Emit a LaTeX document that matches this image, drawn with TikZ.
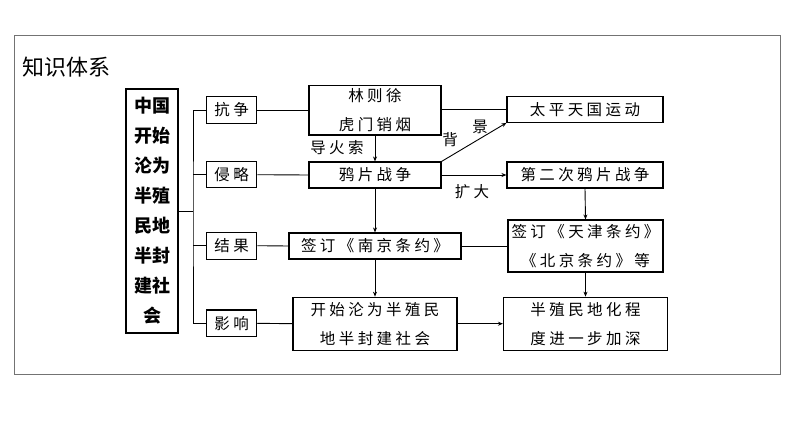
\documentclass[tikz,border=0pt]{standalone}
\usepackage{fontspec}
\setmainfont{Noto Sans CJK SC}
\newfontfamily\spfont{Noto Sans CJK SC}[LetterSpace=22]
\usetikzlibrary{arrows.meta}
\tikzset{
  box/.style={draw, line width=1.1pt, inner sep=0pt, align=center,
    font=\spfont\fontsize{15.5}{29}\selectfont},
  conn/.style={line width=0.9pt},
  arr/.style={conn, -{Stealth[length=5pt,width=4pt]}},
  lbl/.style={inner sep=0pt, font=\spfont\fontsize{15.5}{18}\selectfont}
}
\begin{document}
\begin{tikzpicture}[x=1pt,y=-1pt]
\useasboundingbox (0,0) rectangle (794,447);
\draw[line width=1pt, draw=black!55] (14,35) rectangle (780,374);
\node[inner sep=0pt, font=\fontsize{22}{24}\selectfont] (title) at (66,67) {知识体系};
\node[draw, line width=1.1pt, inner sep=0pt, minimum width=52pt, minimum height=244pt, align=center,
  font=\bfseries\fontsize{18}{30}\selectfont] (left) at (152,211) {中国\\开始\\沦为\\半殖\\民地\\半封\\建社\\会};
\node[box, minimum width=50pt, minimum height=26.7pt] (kz) at (231.7,110) {抗争};
\node[box, minimum width=50pt, minimum height=26pt] (ql) at (231.7,174.7) {侵略};
\node[box, minimum width=50pt, minimum height=26.7pt] (jg) at (231.7,245.7) {结果};
\node[box, minimum width=50pt, minimum height=26.7pt] (yx) at (231.7,323.3) {影响};
\node[box, minimum width=132pt, minimum height=49.3pt] (lzx) at (375,110.3) {林则徐\\虎门销烟};
\node[box, minimum width=156pt, minimum height=25.6pt] (tp) at (585,109.5) {太平天国运动};
\node[box, minimum width=132pt, minimum height=26pt] (yp) at (375,175) {鸦片战争};
\node[box, minimum width=156pt, minimum height=26pt] (de) at (585,175) {第二次鸦片战争};
\node[box, minimum width=172pt, minimum height=26pt] (nj) at (375,246) {签订《南京条约》};
\node[box, minimum width=155pt, minimum height=52pt] (tj) at (585.5,246) {签订《天津条约》\\《北京条约》等};
\node[box, minimum width=164pt, minimum height=53pt] (ks) at (375,323.7) {开始沦为半殖民\\地半封建社会};
\node[box, minimum width=164pt, minimum height=53pt] (bz) at (585.5,323.7) {半殖民地化程\\度进一步加深};
\coordinate (bus) at (193,211);
\draw[conn] (left.east) -- (bus);
\draw[conn] (kz.west) -| (bus) |- (yx.west);
\draw[conn] (ql.west) -- (ql.west -| bus);
\draw[conn] (jg.west) -- (jg.west -| bus);
\draw[conn] (kz.east) -- (kz.east -| lzx.west);
\draw[conn] (lzx.east |- tp.west) -- (tp.west);
\draw[arr] (lzx.south) -- (yp.north);
\node[lbl] (dhs) at (337,148) {导火索};
\draw[arr] (yp.north east) -- (tp.south west);
\node[lbl] (bei) at (450,140) {背};
\node[lbl] (jing) at (480,127) {景};
\draw[arr] (yp.east) -- (de.west);
\node[lbl] (kd) at (472,192) {扩大};
\draw[conn] (ql.east) -- (yp.west);
\draw[arr] (yp.south) -- (nj.north);
\draw[conn] (jg.east) -- (nj.west);
\draw[conn] (nj.east) -- (tj.west);
\draw[arr] (de.south) -- (tj.north);
\draw[arr] (nj.south) -- (ks.north);
\draw[arr] (tj.south) -- (bz.north);
\draw[conn] (yx.east) -- (ks.west);
\draw[arr] (ks.east) -- (bz.west);
\end{tikzpicture}
\end{document}
